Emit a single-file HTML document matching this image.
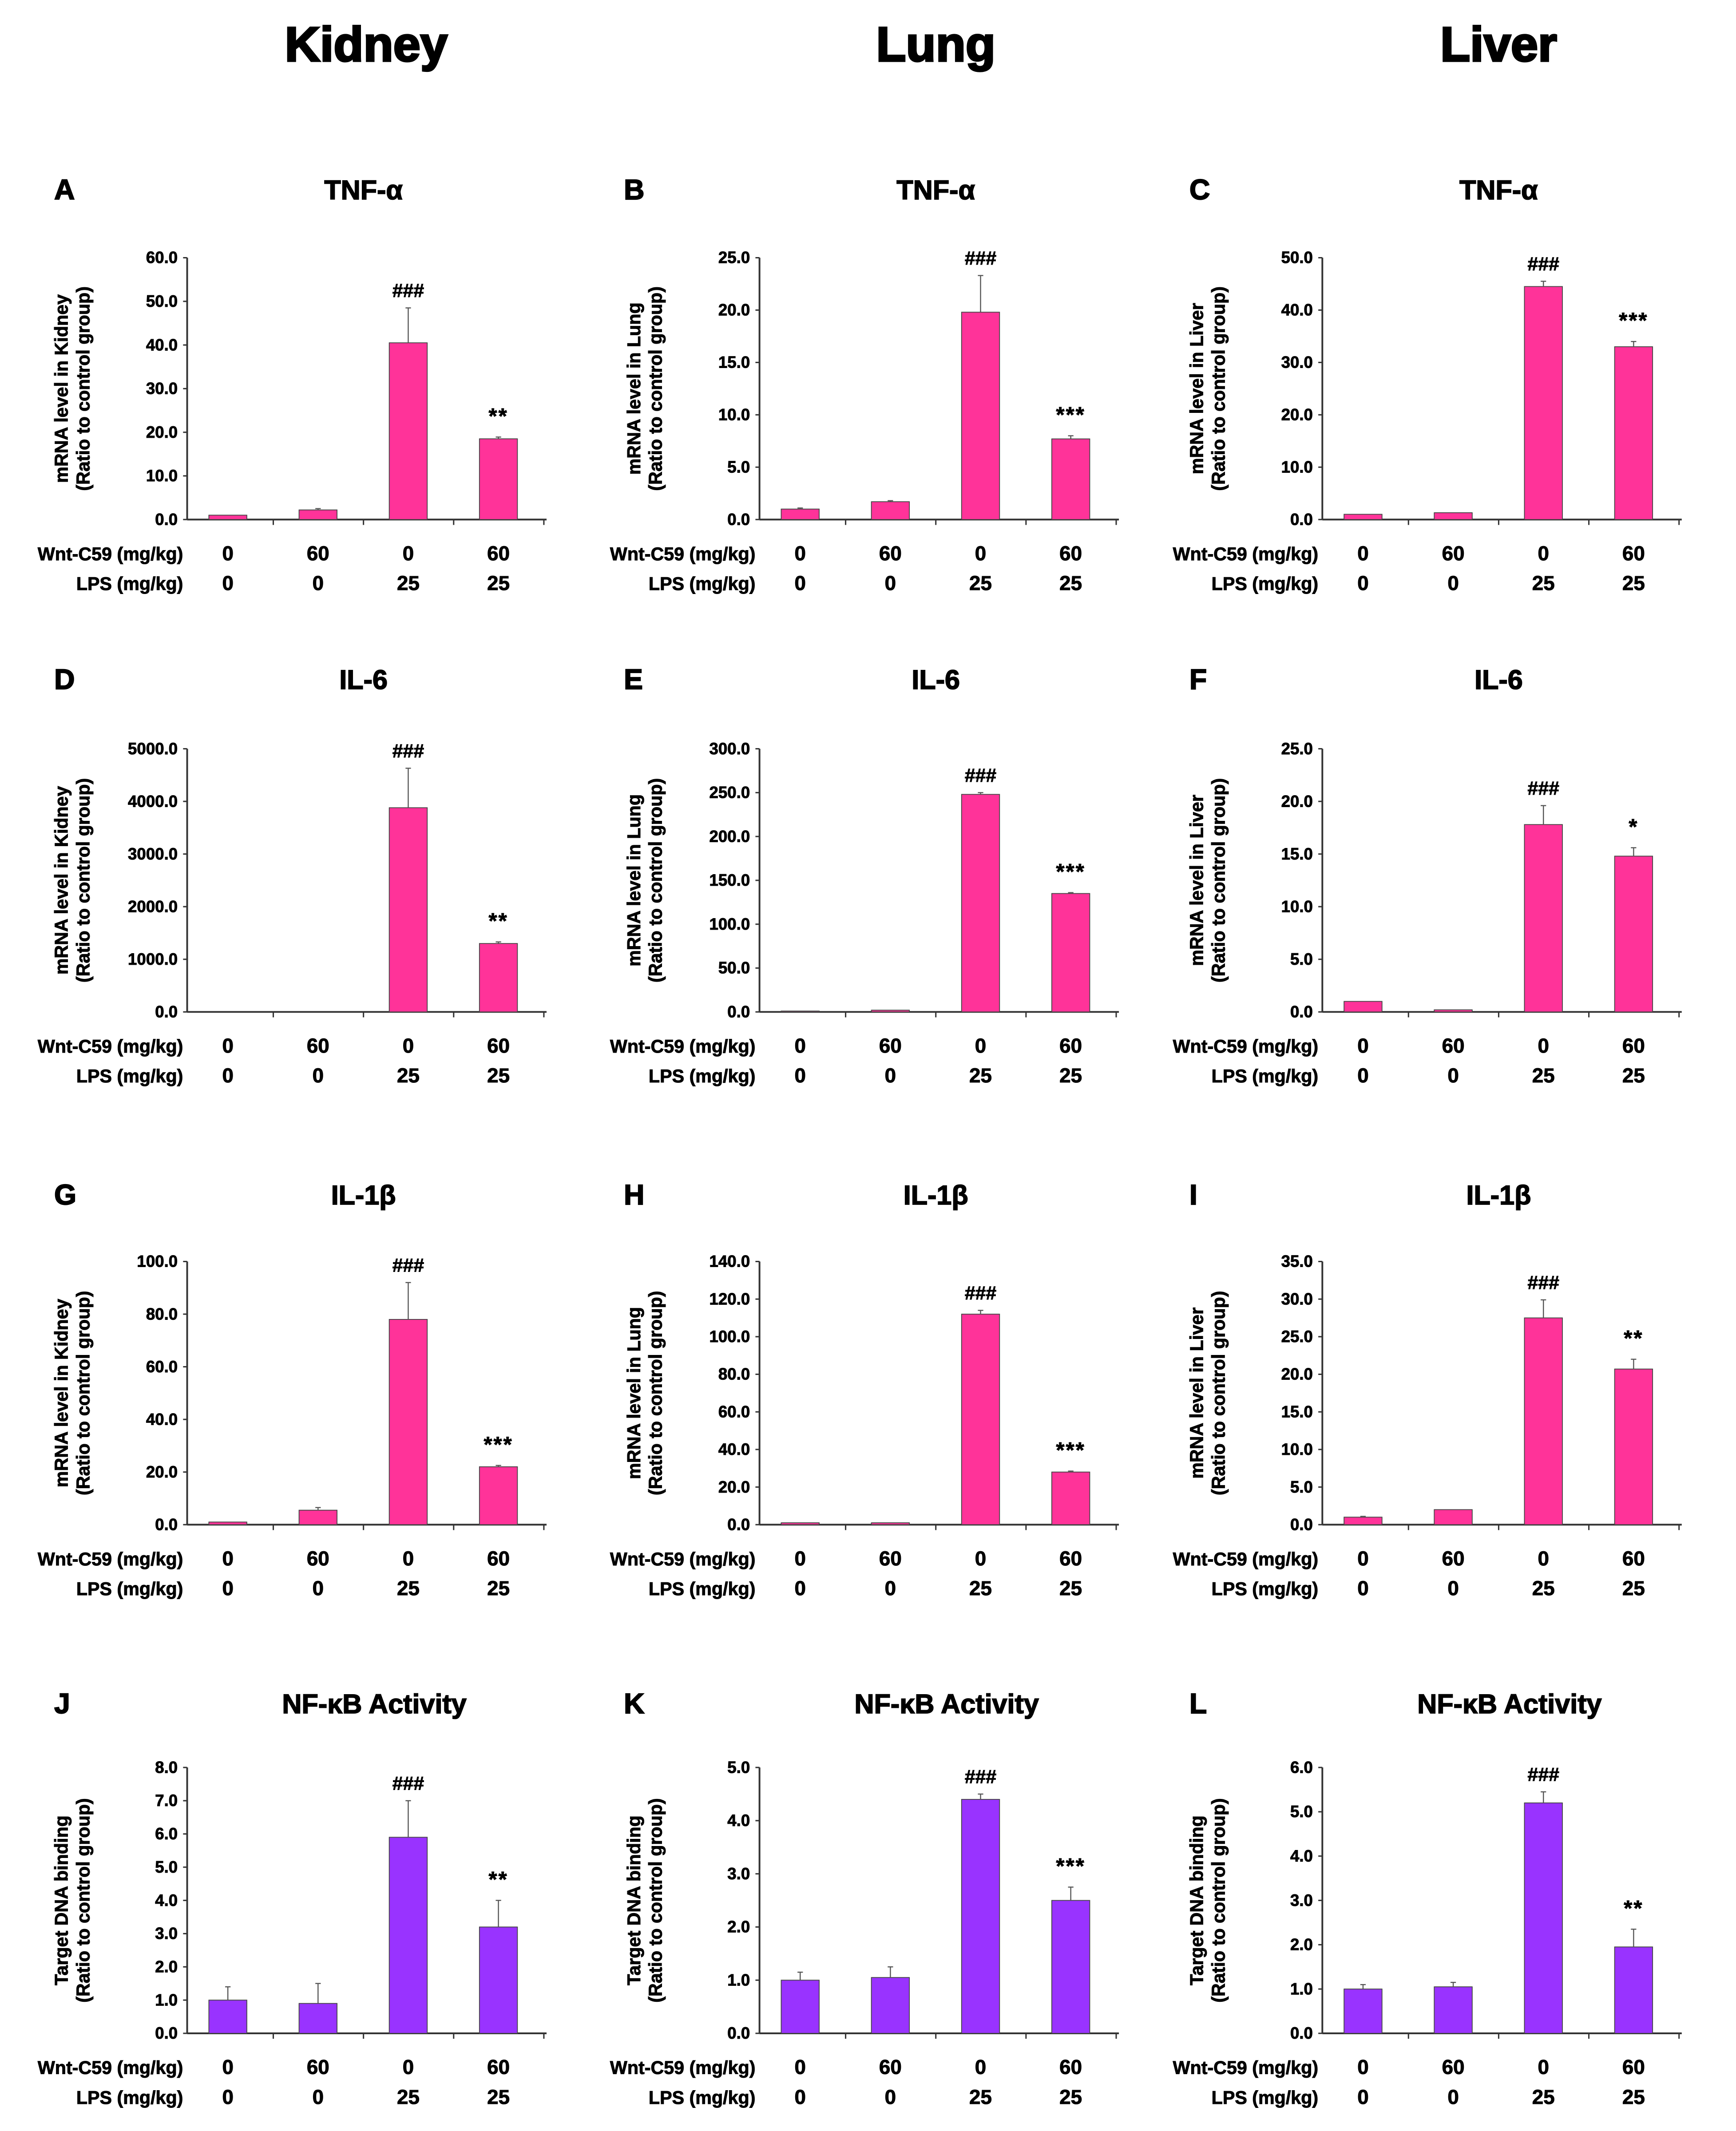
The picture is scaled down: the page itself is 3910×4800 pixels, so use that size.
<!DOCTYPE html>
<html><head><meta charset="utf-8"><style>
html,body{margin:0;padding:0;background:#fff;}
svg{display:block;}
text{font-family:"Liberation Sans",Arial,sans-serif;font-weight:bold;fill:#000;stroke:#000;stroke-width:0.35;}
</style></head>
<body>
<svg id="fig" width="3910" height="4800" viewBox="0 0 1280 1571" preserveAspectRatio="none" xmlns="http://www.w3.org/2000/svg">
<text x="270" y="45" font-size="36" text-anchor="middle" style="stroke-width:1.4">Kidney</text>
<text x="690" y="45" font-size="36" text-anchor="middle" style="stroke-width:1.4">Lung</text>
<text x="1105" y="45" font-size="36" text-anchor="middle" style="stroke-width:1.4">Liver</text>
</svg>
<script>
const panelLetters=["A","B","C","D","E","F","G","H","I","J","K","L"];
const panelTitles=["TNF-α","TNF-α","TNF-α","IL-6","IL-6","IL-6","IL-1β","IL-1β","IL-1β","NF-κB Activity","NF-κB Activity","NF-κB Activity"];
const organs=["Kidney","Lung","Liver"];
const groupsWnt=["0","60","0","60"];
const groupsLps=["0","0","25","25"];
const axisMax=[60,25,50,5000,300,25,100,140,35,8,5,6];
const axisStep=[10,5,10,1000,50,5,20,20,5,1,1,1];
const valA=[1.0,2.2,40.5,18.5], errA=[0,0.3,8,0.4];
const valB=[1.0,1.7,19.8,7.7], errB=[0.1,0.1,3.5,0.3];
const valC=[1.0,1.3,44.5,33.0], errC=[0,0,1,1];
const valD=[0,0,3880,1300], errD=[0,0,750,30];
const valE=[1,2,248,135], errE=[0,0,2,1];
const valF=[1.0,0.2,17.8,14.8], errF=[0,0,1.8,0.8];
const valG=[1,5.5,78,22], errG=[0,1,14,0.5];
const valH=[1,1,112,28], errH=[0,0,2,0.5];
const valI=[1,2,27.5,20.7], errI=[0.1,0,2.4,1.3];
const valJ=[1.0,0.9,5.9,3.2], errJ=[0.4,0.6,1.1,0.8];
const valK=[1.0,1.05,4.4,2.5], errK=[0.15,0.2,0.1,0.25];
const valL=[1.0,1.05,5.2,1.95], errL=[0.1,0.1,0.25,0.4];
const allVals=[valA,valB,valC,valD,valE,valF,valG,valH,valI,valJ,valK,valL];
const allErrs=[errA,errB,errC,errD,errE,errF,errG,errH,errI,errJ,errK,errL];
const starLabels=["**","***","***","**","***","*","***","***","**","**","***","**"];

const NS="http://www.w3.org/2000/svg";
const svg=document.getElementById('fig');
function mk(tag,attrs,parent){const e=document.createElementNS(NS,tag);for(const k in attrs)e.setAttribute(k,attrs[k]);(parent||svg).appendChild(e);return e;}
const colX=[138,560,975];
const rowTop=[190,552,930,1303], rowBot=[383,746,1124,1499], titleY=[147,508,888,1263];
const colLetterX=[40,460,877];
for(let p=0;p<12;p++){
  const r=Math.floor(p/3), c=p%3;
  const g=mk('g',{});
  
  
  const x0=colX[c], top=rowTop[r], bot=rowBot[r], x1=x0+265;
  const yS=v=>bot-(v/axisMax[p])*(bot-top);
  const bx=i=>x0+30+i*66.5;
  let t=mk('text',{x:colLetterX[c],y:titleY[r],'font-size':21,style:'stroke-width:0.7'},g);t.textContent=panelLetters[p];
  
  t=mk('text',{x:x0+130+(r==3?8:0),y:titleY[r],'font-size':20,'text-anchor':'middle',style:'stroke-width:0.6'},g);t.textContent=panelTitles[p];
  
  const l1=r==3?"Target DNA binding":"mRNA level in "+organs[c];
  const cy=(top+bot)/2;
  t=mk('text',{x:0,y:0,'font-size':13.5,'text-anchor':'middle',transform:`translate(${x0-88},${cy}) rotate(-90)`},g);t.textContent=l1;
  
  t=mk('text',{x:0,y:0,'font-size':13.5,'text-anchor':'middle',transform:`translate(${x0-72},${cy}) rotate(-90)`},g);t.textContent="(Ratio to control group)";
  
  let a=mk('line',{x1:x0,y1:top,x2:x0,y2:bot,stroke:'#333','stroke-width':1.3},g);
  
  a=mk('line',{x1:x0,y1:bot,x2:x1,y2:bot,stroke:'#333','stroke-width':1.3},g);
  
  for(let v=0;v<=axisMax[p]+1e-9;v+=axisStep[p]){
    const y=yS(v);
    mk('line',{x1:x0-3,y1:y,x2:x0,y2:y,stroke:'#333','stroke-width':1},g);
    t=mk('text',{x:x0-7,y:y+4,'font-size':12,'text-anchor':'end'},g);t.textContent=v.toFixed(1);
    
  }
  for(let i=1;i<=4;i++){const xx=x0+i*66.5-3;mk('line',{x1:xx,y1:bot,x2:xx,y2:bot+4,stroke:'#333','stroke-width':1},g);}
  const col=r==3?'#9933FF':'#FF3399';
  const vals=allVals[p], errs=allErrs[p];
  for(let i=0;i<4;i++){
    const cx=bx(i), yv=yS(vals[i]);
    const b=mk('rect',{x:cx-14,y:yv,width:28,height:bot-yv,fill:col,stroke:'#444','stroke-width':0.6},g);
    
    if(errs[i]>0){const ye=yS(vals[i]+errs[i]);mk('line',{x1:cx,y1:yv,x2:cx,y2:ye,stroke:'#555','stroke-width':0.8},g);mk('line',{x1:cx-2,y1:ye,x2:cx+2,y2:ye,stroke:'#555','stroke-width':0.8},g);}
    t=mk('text',{x:cx,y:bot+30,'font-size':15,'text-anchor':'middle'},g);t.textContent=groupsWnt[i];
    
    t=mk('text',{x:cx,y:bot+52,'font-size':15,'text-anchor':'middle'},g);t.textContent=groupsLps[i];
    
  }
  const y3=yS(vals[2]+errs[2]);
  t=mk('text',{x:bx(2),y:y3-8,'font-size':14,'text-anchor':'middle'},g);t.textContent="###";
  
  const y4=yS(vals[3]+errs[3]);
  t=mk('text',{x:bx(3),y:y4-10,'font-size':16,'text-anchor':'middle','letter-spacing':'1'},g);t.textContent=starLabels[p];
  
  t=mk('text',{x:x0-3,y:bot+30,'font-size':13.5,'text-anchor':'end'},g);t.textContent="Wnt-C59 (mg/kg)";
  
  t=mk('text',{x:x0-3,y:bot+52,'font-size':13.5,'text-anchor':'end'},g);t.textContent="LPS (mg/kg)";
  
}
</script>
</body></html>
